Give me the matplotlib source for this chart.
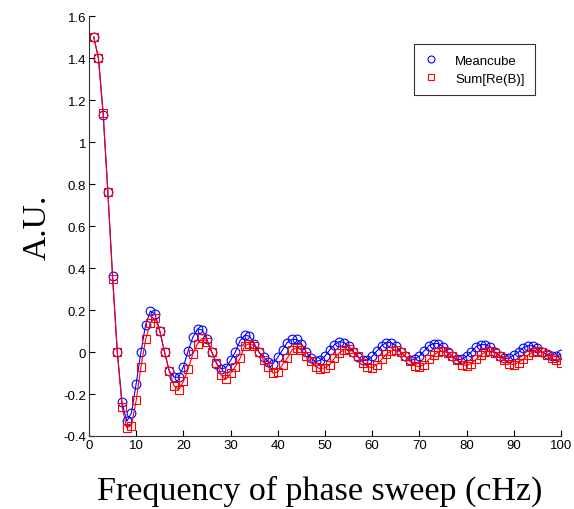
import matplotlib
matplotlib.use("Agg")
import matplotlib.pyplot as plt
import numpy as np

freq = list(range(1, 101))

meancube = [
    1.50, 1.40, 1.13, 0.76, 0.36, 0.00, -0.24, -0.33, -0.29, -0.15,
    0.00, 0.13, 0.195, 0.18, 0.10, 0.00, -0.09, -0.12, -0.12, -0.07,
    0.005, 0.07, 0.11, 0.105, 0.06, 0.00, -0.055, -0.08, -0.075, -0.04,
    0.00, 0.054, 0.08, 0.075, 0.04, 0.00, -0.025, -0.048, -0.055, -0.025,
    0.01, 0.045, 0.06, 0.06, 0.04, 0.00, -0.03, -0.045, -0.04, -0.02,
    0.01, 0.035, 0.05, 0.045, 0.03, 0.00, -0.025, -0.04, -0.04, -0.02,
    0.005, 0.03, 0.045, 0.045, 0.03, 0.00, -0.02, -0.04, -0.035, -0.02,
    0.005, 0.03, 0.04, 0.04, 0.025, 0.00, -0.02, -0.035, -0.035, -0.02,
    0.00, 0.025, 0.035, 0.035, 0.025, 0.00, -0.02, -0.03, -0.03, -0.015,
    0.00, 0.02, 0.03, 0.03, 0.02, 0.00, -0.01, -0.02, -0.02, -0.01,
]

sum_re_b = [
    1.50, 1.40, 1.14, 0.76, 0.35, 0.00, -0.26, -0.36, -0.35, -0.23,
    -0.07, 0.06, 0.14, 0.16, 0.10, 0.00, -0.09, -0.16, -0.18, -0.14,
    -0.08, -0.01, 0.04, 0.065, 0.05, 0.00, -0.05, -0.11, -0.13, -0.10,
    -0.07, -0.03, 0.03, 0.04, 0.03, 0.00, -0.04, -0.07, -0.10, -0.095,
    -0.06, -0.03, 0.01, 0.02, 0.01, -0.02, -0.045, -0.07, -0.08, -0.075,
    -0.06, -0.03, -0.005, 0.01, 0.015, 0.00, -0.02, -0.05, -0.07, -0.075,
    -0.06, -0.035, -0.01, 0.005, 0.01, 0.00, -0.02, -0.045, -0.065, -0.07,
    -0.06, -0.035, -0.015, 0.00, 0.005, -0.005, -0.02, -0.04, -0.06, -0.065,
    -0.055, -0.035, -0.015, 0.00, 0.005, -0.005, -0.02, -0.04, -0.055, -0.06,
    -0.05, -0.035, -0.015, 0.00, 0.005, 0.00, -0.015, -0.03, -0.04, -0.05,
]

x_ticks = list(range(0, 101, 10))
y_ticks = [-0.4, -0.2, 0, 0.2, 0.4, 0.6, 0.8, 1, 1.2, 1.4, 1.6]
y_tick_labels = ["-0.4", "-0.2", "0", "0.2", "0.4", "0.6", "0.8", "1", "1.2", "1.4", "1.6"]

fig = plt.figure(figsize=(5.74, 5.10), dpi=100)
ax = fig.add_axes([89 / 574, 73 / 510, 472 / 574, 420 / 510])

ax.plot(freq, meancube, color="#0000ff", linewidth=0.8, marker="o",
        markersize=6.3, markerfacecolor="none", markeredgewidth=0.8, label="Meancube")
ax.plot(freq, sum_re_b, color="#ff0000", linewidth=0.8, marker="s",
        markersize=6.3, markerfacecolor="none", markeredgewidth=0.8, label="Sum[Re(B)]")

ax.set_xlim(0, 100)
ax.set_ylim(-0.4, 1.6)
ax.set_xticks(x_ticks)
ax.set_yticks(y_ticks)
ax.set_yticklabels(y_tick_labels)
ax.tick_params(direction="in", length=4, width=0.8, labelsize=9.5, pad=2)
for lab in ax.get_xticklabels() + ax.get_yticklabels():
    lab.set_family("Liberation Sans")
ax.spines["top"].set_visible(False)
ax.spines["right"].set_visible(False)
ax.spines["left"].set_color("#333333")
ax.spines["bottom"].set_color("#333333")

ax.set_xlabel("Frequency of phase sweep (cHz)", family="Liberation Serif", fontsize=24.5)
ax.xaxis.set_label_coords(0.489, -0.092)
ax.set_ylabel("A.U.", family="Liberation Serif", fontsize=24, labelpad=8)

leg = ax.legend(loc="upper right", bbox_to_anchor=(0.945, 0.934), frameon=True,
                fancybox=False, edgecolor="black", handlelength=1.0, handletextpad=1.3,
                borderpad=0.8, labelspacing=0.45, borderaxespad=0.0,
                prop={"family": "Liberation Sans", "size": 9.5})
leg.get_frame().set_linewidth(0.8)
for line in leg.get_lines():
    line.set_linestyle("none")
    line.set_markersize(5)

fig.savefig("out.png", dpi=100)
